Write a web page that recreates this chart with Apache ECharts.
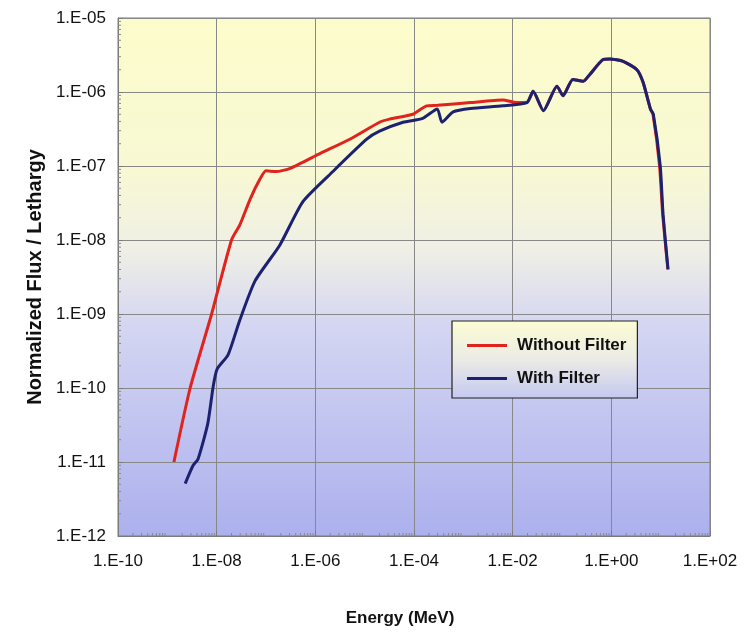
<!DOCTYPE html>
<html>
<head>
<meta charset="utf-8">
<script src="https://cdn.jsdelivr.net/npm/echarts@6/dist/echarts.min.js"></script>
<style>
  html, body { margin: 0; padding: 0; background: #fff; }
  #chart { width: 752px; height: 632px; }
</style>
</head>
<body>
<div id="chart"></div>
<script>
var seriesNames = ['Without Filter', 'With Filter'];

// energy (MeV) / normalized flux per lethargy
var noFilterEnergy = [1.36e-9, 2.9e-9, 7.9e-9, 2.0e-8, 2.95e-8, 4.8e-8, 7.5e-8, 1.0e-7, 1.6e-7, 3.1e-7, 1.26e-6, 5.0e-6, 2.0e-5, 3.2e-5, 9.5e-5, 1.8e-4, 3.0e-4, 1.4e-3, 6.3e-3, 1.2e-2, 1.95e-2,
  2.6e-2, 4.2e-2, 7.9e-2, 0.105, 0.166, 0.27, 0.37, 0.68, 0.93, 1.74, 3.3, 4.4, 6.2, 7.0, 9.5, 11.0, 14.0];
var noFilterFlux = [1.0e-11, 1.0e-10, 1.0e-9, 1.0e-8, 1.6e-8, 3.6e-8, 6.6e-8, 8.6e-8, 8.4e-8, 9.3e-8, 1.48e-7, 2.3e-7, 3.9e-7, 4.3e-7, 5.0e-7, 6.5e-7, 6.6e-7, 7.2e-7, 7.8e-7, 7.2e-7, 7.2e-7,
  1.02e-6, 5.6e-7, 1.2e-6, 8.9e-7, 1.48e-6, 1.4e-6, 1.74e-6, 2.75e-6, 2.8e-6, 2.6e-6, 2.0e-6, 1.35e-6, 5.9e-7, 5.0e-7, 1.0e-7, 2.2e-8, 4.0e-9];

var filterEnergy = [2.3e-9, 3.3e-9, 4.2e-9, 6.6e-9, 8.5e-9, 1.02e-8, 1.7e-8, 2.95e-8, 6.0e-8, 1.9e-7, 5.6e-7, 2.3e-6, 1.1e-5, 2.0e-5, 6.0e-5, 1.5e-4, 2.95e-4, 3.7e-4, 6.2e-4, 1.4e-3, 6.3e-3, 1.95e-2,
  2.6e-2, 4.2e-2, 7.9e-2, 0.105, 0.166, 0.27, 0.37, 0.68, 0.93, 1.74, 3.3, 4.4, 6.2, 7.1, 9.8, 11.2, 14.1];
var filterFlux = [5.1e-12, 8.9e-12, 1.1e-11, 3.3e-11, 1.05e-10, 1.8e-10, 2.8e-10, 8.3e-10, 2.8e-9, 8.5e-9, 3.3e-8, 8.5e-8, 2.3e-7, 2.95e-7, 3.9e-7, 4.4e-7, 5.9e-7, 3.9e-7, 5.4e-7, 6.0e-7, 6.5e-7, 7.2e-7,
  1.02e-6, 5.6e-7, 1.2e-6, 8.9e-7, 1.48e-6, 1.4e-6, 1.74e-6, 2.75e-6, 2.8e-6, 2.6e-6, 2.0e-6, 1.35e-6, 5.9e-7, 5.0e-7, 1.0e-7, 2.2e-8, 4.0e-9];

// axis ranges (decade exponents) and log minor tick mantissas
var xDecades = [-10, 2];
var yDecades = [-12, -5];
var minorMantissas = [2, 3, 4, 5, 6, 7, 8, 9];

function zip(xs, ys) {
  return xs.map(function (x, i) { return [x, ys[i]]; });
}

function expLabel(v) {
  var e = Math.round(Math.log10(v));
  var a = Math.abs(e);
  return '1.E' + (e < 0 ? '-' : '+') + (a < 10 ? '0' + a : a);
}

// minor tick items: [x, y, side]  side 0 = y axis, 1 = x axis
var minorTicks = [];
var xMin = Math.pow(10, xDecades[0]), yMin = Math.pow(10, yDecades[0]);
for (var d = yDecades[0]; d < yDecades[1]; d++) {
  minorMantissas.forEach(function (m) { minorTicks.push([xMin, m * Math.pow(10, d), 0]); });
}
for (var k = xDecades[0]; k < xDecades[1]; k++) {
  minorMantissas.forEach(function (m) { minorTicks.push([m * Math.pow(10, k), yMin, 1]); });
}

var chart = echarts.init(document.getElementById('chart'));

var option = {
  backgroundColor: '#ffffff',
  animation: false,
  textStyle: { fontFamily: 'Liberation Sans, Arial, sans-serif' },
  grid: {
    left: 118, right: 42, top: 18, bottom: 91,
    show: true,
    borderColor: '#7a7a7a',
    borderWidth: 1,
    backgroundColor: {
      type: 'linear', x: 0, y: 0, x2: 0, y2: 1,
      colorStops: [
        { offset: 0, color: '#fcfccb' },
        { offset: 0.3, color: '#f8f8d4' },
        { offset: 0.45, color: '#efefe6' },
        { offset: 0.6, color: '#d3d5f2' },
        { offset: 1, color: '#acb0ed' }
      ]
    }
  },
  legend: {
    data: seriesNames,
    orient: 'vertical',
    left: 452,
    top: 321,
    padding: [16, 11, 11, 15],
    itemGap: 16,
    itemWidth: 40,
    itemHeight: 3,
    icon: 'rect',
    borderColor: '#222',
    borderWidth: 1.2,
    backgroundColor: {
      type: 'linear', x: 0, y: 0, x2: 0, y2: 1,
      colorStops: [
        { offset: 0, color: '#fcfcd2' },
        { offset: 0.5, color: '#ebebe6' },
        { offset: 1, color: '#c5c8f0' }
      ]
    },
    textStyle: { fontSize: 17, fontWeight: 'bold', color: '#111', padding: [0, 0, 0, 5] }
  },
  xAxis: {
    type: 'log',
    logBase: 10,
    min: xMin,
    max: Math.pow(10, xDecades[1]),
    interval: 2,
    name: 'Energy (MeV)',
    nameLocation: 'middle',
    nameGap: 74,
    nameTextStyle: { fontSize: 17, fontWeight: 'bold', color: '#111', padding: [0, 28, 0, 0] },
    axisLine: { show: true, lineStyle: { color: '#7a7a7a' } },
    axisTick: { show: true, inside: true, length: 5, lineStyle: { color: '#7a7a7a' } },
    axisLabel: { fontSize: 17, color: '#111', margin: 17, formatter: expLabel },
    splitLine: { show: true, lineStyle: { color: '#888', width: 1 } }
  },
  yAxis: {
    type: 'log',
    logBase: 10,
    min: yMin,
    max: Math.pow(10, yDecades[1]),
    interval: 1,
    name: 'Normalized Flux / Lethargy',
    nameLocation: 'middle',
    nameGap: 72,
    nameTextStyle: { fontSize: 20, fontWeight: 'bold', color: '#111' },
    axisLine: { show: true, lineStyle: { color: '#7a7a7a' } },
    axisTick: { show: true, inside: true, length: 5, lineStyle: { color: '#7a7a7a' } },
    axisLabel: { fontSize: 17, color: '#111', margin: 12, formatter: expLabel },
    splitLine: { show: true, lineStyle: { color: '#888', width: 1 } }
  },
  series: [
    {
      // log minor ticks along the left and bottom axes
      type: 'custom',
      silent: true,
      z: 1,
      data: minorTicks,
      encode: { x: 0, y: 1 },
      renderItem: function (params, api) {
        var p = api.coord([api.value(0), api.value(1)]);
        var side = api.value(2);
        var end = side === 0 ? [p[0] + 3, p[1]] : [p[0], p[1] - 3];
        return {
          type: 'line',
          shape: { x1: p[0], y1: p[1], x2: end[0], y2: end[1] },
          style: { stroke: '#8a8a8a', lineWidth: 1 }
        };
      }
    },
    {
      name: seriesNames[0],
      type: 'line',
      data: zip(noFilterEnergy, noFilterFlux),
      smooth: 0.2,
      showSymbol: false,
      lineStyle: { color: '#e0231c', width: 3 },
      itemStyle: { color: '#e0231c' },
      z: 2
    },
    {
      name: seriesNames[1],
      type: 'line',
      data: zip(filterEnergy, filterFlux),
      smooth: 0.2,
      showSymbol: false,
      lineStyle: { color: '#1c2270', width: 3 },
      itemStyle: { color: '#1c2270' },
      z: 3
    }
  ]
};

chart.setOption(option);
</script>
</body>
</html>
